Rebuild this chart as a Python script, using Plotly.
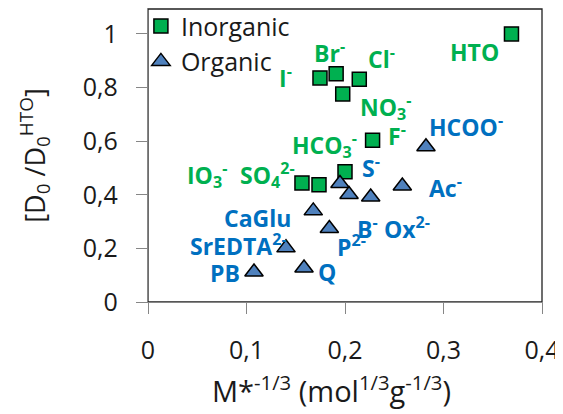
import plotly.graph_objects as go

# Inorganic (squares)
inorg_labels = ["HTO", "Cl<sup>-</sup>", "Br<sup>-</sup>", "I<sup>-</sup>", "NO<sub>3</sub><sup>-</sup>",
                "F<sup>-</sup>", "HCO<sub>3</sub><sup>-</sup>", "IO<sub>3</sub><sup>-</sup>", "SO<sub>4</sub><sup>2-</sup>"]
inorg_x = [0.369, 0.2145, 0.191, 0.1746, 0.1977, 0.228, 0.200, 0.1563, 0.1736]
inorg_y = [1.000, 0.831, 0.851, 0.836, 0.776, 0.603, 0.486, 0.444, 0.437]

# Organic (triangles)
org_labels = ["HCOO<sup>-</sup>", "S<sup>-</sup>", "B<sup>-</sup>", "Ox<sup>2-</sup>", "Ac<sup>-</sup>",
              "CaGlu", "P<sup>2-</sup>", "Q", "SrEDTA<sup>2-</sup>", "PB"]
org_x = [0.2822, 0.1949, 0.2041, 0.2261, 0.2582, 0.1678, 0.1841, 0.1584, 0.1401, 0.1076]
org_y = [0.579, 0.442, 0.401, 0.392, 0.433, 0.340, 0.274, 0.127, 0.202, 0.112]

# label offsets in pixels (dx right, dy down) relative to each marker
inorg_off = [(-37, 18), (22, -21), (-7, -22), (-34, -1), (43, 13), (24, -5), (-21, -27), (-95, -8), (-52, -10)]
org_off = [(40, -21), (31, -17), (18, 33), (36, 31), (43, 1), (-56, 7), (22, 17), (23, 4), (-48, -3), (-29, 1)]

GREEN = "#00B050"
GREEN_TXT = "#00B050"
BLUE = "#4F81BD"
BLUE_TXT = "#0070C0"
FONT = "Open Sans"

fig = go.Figure()
fig.add_trace(go.Scatter(
    x=inorg_x, y=inorg_y, mode="markers", name="Inorganic",
    marker=dict(symbol="square", size=14, color=GREEN, line=dict(color="black", width=1.5)),
    hoverinfo="skip"))
fig.add_trace(go.Scatter(
    x=org_x, y=org_y, mode="markers", name="Organic",
    marker=dict(symbol="triangle-up", size=16, color=BLUE, line=dict(color="black", width=1.5)),
    hoverinfo="skip"))

ann = []
for lab, x, y, (dx, dy) in zip(inorg_labels, inorg_x, inorg_y, inorg_off):
    ann.append(dict(x=x, y=y, text=lab, showarrow=False, xshift=dx, yshift=-dy,
                    font=dict(family=FONT, size=23, color=GREEN_TXT, weight="bold")))
for lab, x, y, (dx, dy) in zip(org_labels, org_x, org_y, org_off):
    ann.append(dict(x=x, y=y, text=lab, showarrow=False, xshift=dx, yshift=-dy,
                    font=dict(family=FONT, size=23, color=BLUE_TXT, weight="bold")))

# x-axis title (placed slightly left of plot centre, as in the reference)
ann.append(dict(xref="paper", yref="paper", x=0.467, y=-0.297, xanchor="center", yanchor="middle",
                showarrow=False,
                text="M*<sup>-1/3</sup> (mol<sup>1/3</sup>g<sup>-1/3</sup>)",
                font=dict(family=FONT, size=29, color="#1a1a1a")))

fig.update_layout(
    width=555, height=406,
    margin=dict(l=140, r=21, t=1, b=112, autoexpand=False),
    paper_bgcolor="white", plot_bgcolor="white",
    separators=", ",
    font=dict(family=FONT, size=25, color="#1a1a1a"),
    showlegend=True,
    legend=dict(x=-0.018, y=1.02, xanchor="left", yanchor="top", bgcolor="rgba(0,0,0,0)",
                font=dict(family=FONT, size=25, color="#1a1a1a"), tracegroupgap=0),
    annotations=ann,
    shapes=[dict(type="rect", xref="paper", yref="paper", x0=0, y0=0, x1=1, y1=1,
                 line=dict(color="#202020", width=1.3), layer="below")],
)
fig.update_xaxes(range=[0, 0.4], dtick=0.1, tick0=0, showgrid=False, zeroline=False,
                 showline=True, linecolor="#868686", linewidth=1.3, automargin=False,
                 ticks="outside", ticklen=11, tickcolor="#868686", tickwidth=1.3,
                 ticklabelstandoff=15, tickfont=dict(size=25))
fig.update_yaxes(range=[0, 1.093], dtick=0.2, tick0=0, showgrid=False, zeroline=False,
                 showline=True, linecolor="#868686", linewidth=1.3, automargin=False,
                 ticks="outside", ticklen=11, tickcolor="#868686", tickwidth=1.3,
                 ticklabelstandoff=13, tickfont=dict(size=25),
                 title=dict(text="[D<sub>0</sub> /D<sub>0</sub><sup>HTO</sup>]",
                            font=dict(size=27), standoff=29))

fig.write_html("out.html")
